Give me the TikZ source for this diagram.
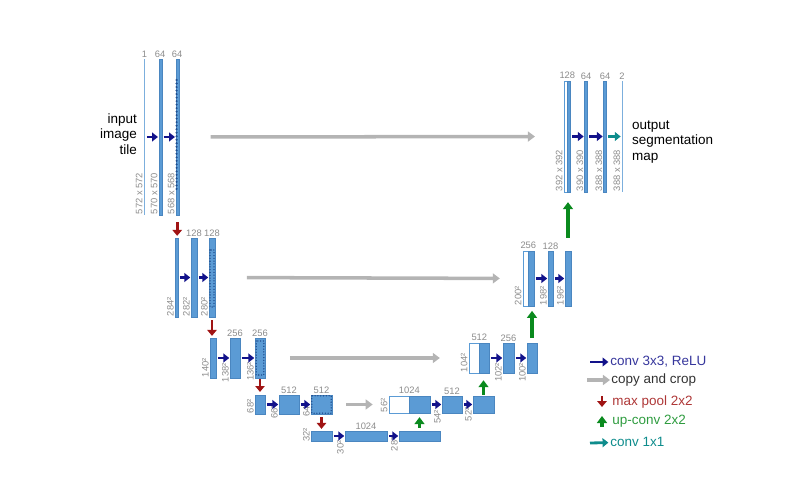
\documentclass[tikz,border=0pt]{standalone}
\usepackage{fontspec}
\setmainfont{Liberation Sans}
\usepackage{tikz}
\usetikzlibrary{arrows.meta,positioning,fit,calc}
\definecolor{barblue}{HTML}{5B9BD5}
\definecolor{barline}{HTML}{4A86C0}
\definecolor{cropblue}{HTML}{1F4E8F}
\definecolor{convnavy}{HTML}{12128A}
\definecolor{copygray}{HTML}{B4B4B4}
\definecolor{poolred}{HTML}{A01414}
\definecolor{upgreen}{HTML}{0A8A1E}
\definecolor{outteal}{HTML}{0E8C8C}
\definecolor{lblgray}{HTML}{8C8C8C}

\begin{document}
\begin{tikzpicture}[
    x=0.03cm, y=-0.03cm,
    bar/.style={fill=barblue, draw=barline, line width=0.3pt, inner sep=0pt},
    thinbar/.style={fill=barblue!80, draw=none, inner sep=0pt},
    wbar/.style={fill=white, draw=barblue, line width=0.6pt, inner sep=0pt},
    num/.style={font=\fontsize{8}{9}\selectfont, text=lblgray, inner sep=1.2pt},
    dim/.style={font=\fontsize{8}{9}\selectfont, text=lblgray, rotate=90,
      anchor=south west, inner sep=0.8pt},
    crop/.style={draw=cropblue, line width=1.3pt, line cap=round,
      dash pattern=on 0pt off 2.4pt},
    conv/.style={draw=convnavy, line width=2.4pt,
      -{Triangle[length=5pt,width=7.5pt]}, shorten <=1.5pt, shorten >=0.5pt},
    outconv/.style={conv, draw=outteal},
    copy/.style={draw=copygray, line width=3pt,
      -{Triangle[length=6pt,width=8.5pt]}},
    pool/.style={draw=poolred, line width=2.4pt,
      -{Triangle[length=5pt,width=8pt]}},
    upconv/.style={draw=upgreen, line width=2.6pt,
      -{Triangle[length=6pt,width=8.5pt]}},
    side/.style={font=\fontsize{11.5}{13.2}\selectfont, inner sep=0pt},
    legend/.style={font=\fontsize{11.5}{13}\selectfont, anchor=west, inner sep=1pt},
  ]
  \useasboundingbox (0,0) rectangle (800,480);

  % Contracting path, level 1
  \node[thinbar, fit={(143.8,59) (145,215)}] (c11) {};
  \node[bar, fit={(158.7,59) (161.7,215)}] (c12) {};
  \node[bar, fit={(175.7,59) (178.7,215)}] (c13) {};
  \draw[crop, line width=2pt, dash pattern=on 0pt off 3pt] (176.6,80) -- (176.6,192);
  \node[num, above=0pt of c11] (n11) {1};
  \node[num, above=0pt of c12] (n12) {64};
  \node[num, above=0pt of c13] (n13) {64};
  \node[dim] (d11) at (c11.south west) {572 x 572};
  \node[dim] (d12) at (c12.south west) {570 x 570};
  \node[dim] (d13) at (c13.south west) {568 x 568};
  \node[side, align=right, anchor=east] (inp) at (137,134) {input\\image\\tile};
  \draw[conv] (c11.east) -- (c12.west);
  \draw[conv] (c12.east) -- (c13.west);

  % level 2
  \node[bar, fit={(175,238) (178,317)}] (c21) {};
  \node[bar, fit={(191,238) (197,317)}] (c22) {};
  \node[bar, fit={(209,238) (215,317)}] (c23) {};
  \draw[crop] (210,250) rectangle (214,307);
  \node[num, above=0pt of c22] (n22) {128};
  \node[num, above=0pt of c23] (n23) {128};
  \node[dim] (d21) at (c21.south west) {284²};
  \node[dim] (d22) at (c22.south west) {282²};
  \node[dim] (d23) at (c23.south west) {280²};
  \draw[conv] (c21.east) -- (c22.west);
  \draw[conv] (c22.east) -- (c23.west);

  % level 3
  \node[bar, fit={(210,338) (216,378)}] (c31) {};
  \node[bar, fit={(230,338) (240,378)}] (c32) {};
  \node[bar, fit={(255,338) (265,378)}] (c33) {};
  \draw[crop] (256.2,341) rectangle (263.8,375);
  \node[num, above=0pt of c32] (n32) {256};
  \node[num, above=0pt of c33] (n33) {256};
  \node[dim] (d31) at (c31.south west) {140²};
  \node[dim] (d32) at ([yshift=-4.3pt]c32.south west) {138²};
  \node[dim] (d33) at ([yshift=-3.4pt]c33.south west) {136²};
  \draw[conv] (c31.east) -- (c32.west);
  \draw[conv] (c32.east) -- (c33.west);

  % level 4
  \node[bar, fit={(255,395) (265,414)}] (c41) {};
  \node[bar, fit={(279,395) (299,414)}] (c42) {};
  \node[bar, fit={(311,395) (332,414)}] (c43) {};
  \draw[crop] (311.8,395.8) rectangle (331.2,413.2);
  \node[num, above=0pt of c42] (n42) {512};
  \node[num, above=0pt of c43] (n43) {512};
  \node[dim] (d41) at (c41.south west) {68²};
  \node[dim] (d42) at ([yshift=-5pt]c42.south west) {66²};
  \node[dim] (d43) at ([yshift=-3.4pt]c43.south west) {64²};
  \draw[conv] (c41.east) -- (c42.west);
  \draw[conv] (c42.east) -- (c43.west);

  % Bottom, level 5
  \node[bar, fit={(311,431) (332,441)}] (c51) {};
  \node[bar, fit={(345,431) (387,441)}] (c52) {};
  \node[bar, fit={(399,431) (440,441)}] (c53) {};
  \node[num, above=0pt of c52] (n52) {1024};
  \node[dim] (d51) at ([yshift=-1.7pt]c51.south west) {32²};
  \node[dim] (d52) at ([yshift=-12pt]c52.south west) {30²};
  \node[dim] (d53) at ([yshift=-9.4pt]c53.south west) {28²};
  \draw[conv] (c51.east) -- (c52.west);
  \draw[conv] (c52.east) -- (c53.west);

  % Expanding path, level 4
  \node[wbar, fit={(389,396) (409,413)}] (u41w) {};
  \node[bar, fit={(409,396) (430,413)}] (u41b) {};
  \node[bar, fit={(442,396) (462,413)}] (u42) {};
  \node[bar, fit={(473,396) (494,413)}] (u43) {};
  \node[num, above=0pt of u41w.north east] (m41) {1024};
  \node[num, above=0pt of u42] (m42) {512};
  \node[dim] (e41) at (u41w.south west) {56²};
  \node[dim] (e42) at ([yshift=-10pt]u42.south west) {54²};
  \node[dim] (e43) at ([yshift=-7.7pt]u43.south west) {52²};
  \draw[conv] (u41b.east) -- (u42.west);
  \draw[conv] (u42.east) -- (u43.west);

  % level 3
  \node[wbar, fit={(469,343) (479,373)}] (u31w) {};
  \node[bar, fit={(479,343) (489,373)}] (u31b) {};
  \node[bar, fit={(503,343) (514,373)}] (u32) {};
  \node[bar, fit={(527,343) (537,373)}] (u33) {};
  \node[num, above=0pt of u31w.north east] (m31) {512};
  \node[num, above=0pt of u32] (m32) {256};
  \node[dim] (e31) at (u31w.south west) {104²};
  \node[dim] (e32) at ([yshift=-8.5pt]u32.south west) {102²};
  \node[dim] (e33) at ([yshift=-8.5pt]u33.south west) {100²};
  \draw[conv] (u31b.east) -- (u32.west);
  \draw[conv] (u32.east) -- (u33.west);

  % level 2
  \node[wbar, fit={(523,251) (528,306)}] (u21w) {};
  \node[bar, fit={(528,251) (534,306)}] (u21b) {};
  \node[bar, fit={(548,251) (553,306)}] (u22) {};
  \node[bar, fit={(565,251) (571,306)}] (u23) {};
  \node[num, above=0pt of u21w.north east] (m21) {256};
  \node[num, above=0pt of u22] (m22) {128};
  \node[dim] (e21) at (u21w.south west) {200²};
  \node[dim] (e22) at (u22.south west) {198²};
  \node[dim] (e23) at (u23.south west) {196²};
  \draw[conv] (u21b.east) -- (u22.west);
  \draw[conv] (u22.east) -- (u23.west);

  % level 1
  \node[wbar, fit={(564,81) (567,192)}] (u11w) {};
  \node[bar, fit={(567,81) (570,192)}] (u11b) {};
  \node[bar, fit={(584.5,81) (587.5,192)}] (u12) {};
  \node[bar, fit={(603.5,81) (606.5,192)}] (u13) {};
  \node[thinbar, fit={(621.5,81) (622.7,192)}] (u14) {};
  \node[num, above=0pt of u11w.north east] (m11) {128};
  \node[num, above=0pt of u12] (m12) {64};
  \node[num, above=0pt of u13] (m13) {64};
  \node[num, above=0pt of u14] (m14) {2};
  \node[dim] (e11) at (u11w.south west) {392 x 392};
  \node[dim] (e12) at (u12.south west) {390 x 390};
  \node[dim] (e13) at (u13.south west) {388 x 388};
  \node[dim] (e14) at (u14.south west) {388 x 388};
  \node[side, align=left, anchor=west] (outp) at (632,142) {output\\segmentation\\map};
  \draw[conv] (u11b.east) -- (u12.west);
  \draw[conv] (u12.east) -- (u13.west);
  \draw[outconv] (u13.east) -- (u14.west);

  % Copy and crop
  \draw[copy, shorten <=27pt, shorten >=24.5pt] (c13.east) -- (u11w.west);
  \draw[copy, shorten <=27pt, shorten >=19.5pt] (c23.east) -- (u21w.west);
  \draw[copy, shorten <=21pt, shorten >=24.6pt] (c33.east) -- (u31w.west);
  \draw[copy, shorten <=12pt, shorten >=13.6pt] (c43.east) -- (u41w.west);

  % Max pool
  \draw[pool, shorten <=6pt, shorten >=1.7pt] (c13.south) -- (c13.south |- c21.north);
  \draw[pool, shorten <=2.5pt, shorten >=1.7pt] (c23.south) -- (c23.south |- c31.north);
  \draw[pool, shorten <=1pt, shorten >=2.5pt] (c33.south) -- (c33.south |- c41.north);
  \draw[pool, shorten <=2.5pt, shorten >=1.7pt] (c43.south) -- (c43.south |- c51.north);

  % Up-conv
  \draw[upconv, shorten <=2.5pt, shorten >=3.4pt] (c53.north) -- (c53.north |- u41b.south);
  \draw[upconv, shorten <=1pt, shorten >=6pt] (u43.north) -- (u43.north |- u31b.south);
  \draw[upconv, shorten <=4pt, shorten >=4pt] (u33.north) -- (u33.north |- u21b.south);
  \draw[upconv, shorten <=11pt, shorten >=8.5pt] (u23.north) -- (u23.north |- u11b.south);

  % Legend
  \node[legend, text=convnavy!85!white] (l1) at (609,362) {conv 3x3, ReLU};
  \node[legend, text=black!80] (l2) at (610,380) {copy and crop};
  \node[legend, text=poolred!85!white] (l3) at (611,402) {max pool 2x2};
  \node[legend, text=upgreen!85!white] (l4) at (611,421) {up-conv 2x2};
  \node[legend, text=outteal] (l5) at (609,442) {conv 1x1};
  \coordinate (k1) at (590,362);
  \coordinate (k2) at (587,380);
  \coordinate (k3a) at (602,396);
  \coordinate (k3b) at (602,407);
  \coordinate (k4a) at (602,427);
  \coordinate (k4b) at (602,416);
  \coordinate (k5) at (590,443);
  \draw[conv, shorten <=0pt] (k1) -- (l1);
  \draw[copy] (k2) -- (l2);
  \draw[pool] (k3a) -- (k3b);
  \draw[upconv] (k4a) -- (k4b);
  \draw[outconv, shorten <=0pt] (k5) -- (l5);

\end{tikzpicture}
\end{document}
